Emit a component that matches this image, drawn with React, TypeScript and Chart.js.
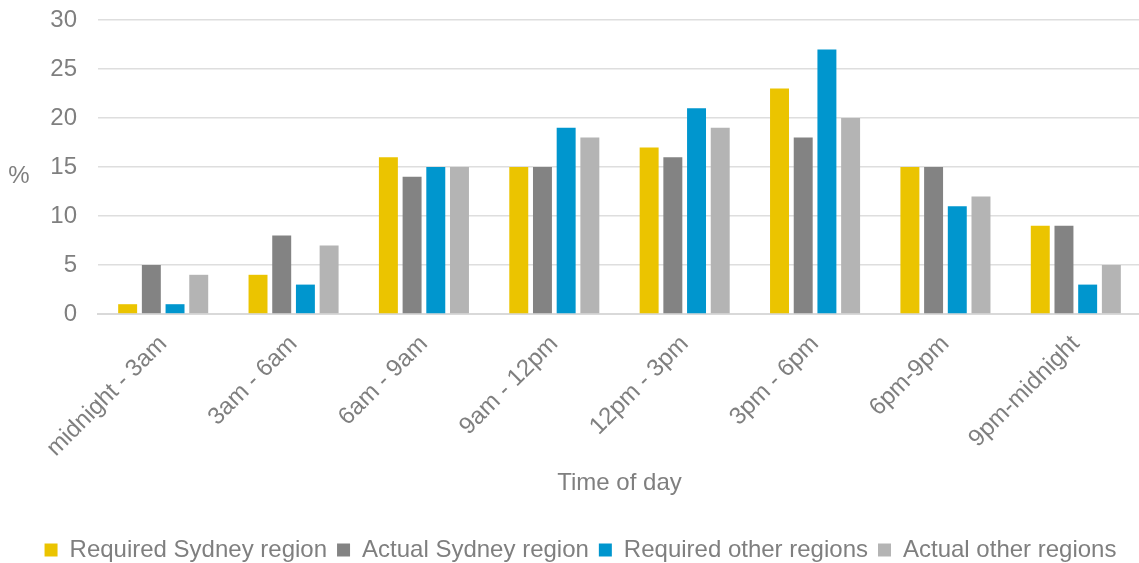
import React, { useEffect, useRef } from "react";
import { Chart, registerables } from "chart.js";

Chart.register(...registerables);

const categories = [
  "midnight - 3am",
  "3am - 6am",
  "6am - 9am",
  "9am - 12pm",
  "12pm - 3pm",
  "3pm - 6pm",
  "6pm-9pm",
  "9pm-midnight",
];
const requiredSydney = [1, 4, 16, 15, 17, 23, 15, 9];
const actualSydney = [5, 8, 14, 15, 16, 18, 15, 9];
const requiredOther = [1, 3, 15, 19, 21, 27, 11, 3];
const actualOther = [4, 7, 15, 18, 19, 20, 12, 5];
const yTicks = [0, 5, 10, 15, 20, 25, 30];

const seriesNames = [
  "Required Sydney region",
  "Actual Sydney region",
  "Required other regions",
  "Actual other regions",
];
const seriesColors = ["#EBC400", "#838383", "#0096CE", "#B4B4B4"];
const yTitle = "%";
const xTitle = "Time of day";

const FONT = "'Liberation Sans', Arial, sans-serif";
const TEXT = "#7f7f7f";
const FS = 24;

const yTitlePlugin = {
  id: "yTitlePlain",
  afterDraw(chart: any) {
    const ctx = chart.ctx;
    const area = chart.chartArea;
    ctx.save();
    ctx.font = `${FS}px ${FONT}`;
    ctx.fillStyle = TEXT;
    ctx.textAlign = "center";
    ctx.textBaseline = "middle";
    ctx.fillText(yTitle, 19, (area.top + area.bottom) / 2 + 9);
    ctx.restore();
  },
};

export default function App() {
  const ref = useRef<HTMLCanvasElement | null>(null);

  useEffect(() => {
    if (!ref.current) return;
    const data = [requiredSydney, actualSydney, requiredOther, actualOther];
    const chart = new Chart(ref.current, {
      type: "bar",
      data: {
        labels: categories,
        datasets: data.map((d, i) => ({
          label: seriesNames[i],
          data: d,
          backgroundColor: seriesColors[i],
          borderWidth: 0,
          categoryPercentage: 0.727,
          barPercentage: 0.8,
        })),
      },
      options: {
        responsive: false,
        animation: false,
        devicePixelRatio: 1,
        layout: { padding: { top: 20, right: 2, left: 20, bottom: 0 } },
        plugins: {
          legend: {
            position: "bottom",
            labels: {
              boxWidth: 13,
              boxHeight: 13,
              padding: 10,
              color: TEXT,
              font: { family: FONT, size: FS },
            },
          },
          tooltip: { enabled: false },
        },
        scales: {
          x: {
            grid: {
              display: true,
              color: "rgba(0,0,0,0)",
              drawOnChartArea: false,
              drawTicks: false,
            },
            border: { display: true, color: "#d9d9d9", width: 2 },
            ticks: {
              color: TEXT,
              font: { family: FONT, size: FS },
              maxRotation: 45,
              minRotation: 45,
              padding: 16,
              labelOffset: 0,
              autoSkip: false,
            },
            title: {
              display: true,
              text: xTitle,
              color: TEXT,
              font: { family: FONT, size: FS },
              padding: { top: 0, bottom: 30 },
            },
            afterFit: (scale: any) => {
              scale.height = 214;
            },
          },
          y: {
            min: yTicks[0],
            max: yTicks[yTicks.length - 1],
            ticks: {
              stepSize: yTicks[1] - yTicks[0],
              color: TEXT,
              font: { family: FONT, size: FS },
              padding: 21,
            },
            grid: { color: "#dedede", lineWidth: 1.6, drawTicks: false },
            border: { display: false },
            afterFit: (scale: any) => {
              scale.width = 78;
              scale.paddingTop = 14;
              scale.paddingBottom = 0;
            },
          },
        },
      },
      plugins: [yTitlePlugin],
    });
    return () => chart.destroy();
  }, []);

  return (
    <div
      style={{
        position: "fixed",
        left: 0,
        top: 0,
        width: 1139,
        height: 563,
        overflow: "hidden",
        background: "#fff",
      }}
    >
      <canvas ref={ref} width={1143} height={572} style={{ width: 1143, height: 572 }} />
    </div>
  );
}
